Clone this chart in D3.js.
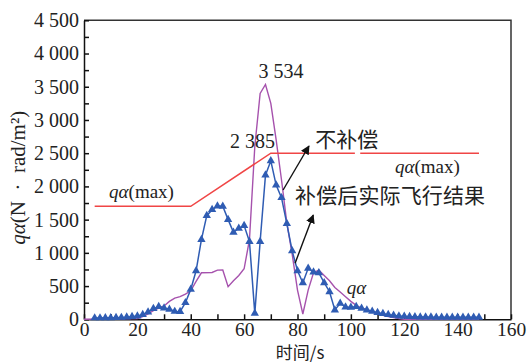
<!DOCTYPE html>
<html>
<head>
<meta charset="utf-8">
<script src="https://cdn.jsdelivr.net/npm/d3@7"></script>
<style>
  html, body { margin: 0; padding: 0; background: #fff; }
  svg text { fill: #222; }
  .serif { font-family: "Liberation Serif", "DejaVu Serif", serif; }
  .cjk { font-family: "Noto Sans CJK SC", sans-serif; }
</style>
</head>
<body>
<svg id="chart" width="531" height="364"></svg>
<script>
// actual flight result after compensation (blue, triangles)
var blueTime = [4, 6, 8, 10, 12, 14, 16, 18, 20, 22, 24, 26, 28, 30, 32, 34, 36, 38, 40, 42,
  44, 46, 48, 50, 52, 54, 56, 58, 60, 62, 64, 66, 68, 70, 72, 74, 76, 78, 80, 82,
  84, 86, 88, 90, 92, 94, 96, 98, 100, 102, 104, 106, 108, 110, 112, 114, 116, 118, 120, 122,
  124, 126, 128, 130, 132, 134, 136, 138, 140, 142, 144, 146, 148];
var blueValue = [20, 20, 22, 22, 25, 28, 32, 40, 50, 70, 110, 160, 190, 170, 150, 118, 115, 250, 450, 730,
  1200, 1560, 1650, 1705, 1700, 1500, 1310, 1370, 1410, 1170, 90, 1170, 2170, 2385, 2020, 1830, 1440, 1030, 730, 550,
  767, 710, 700, 550, 415, 140, 240, 185, 180, 190, 165, 140, 120, 100, 85, 70, 60, 50, 45, 40,
  38, 35, 33, 32, 30, 30, 30, 30, 30, 30, 30, 30, 30];

// without compensation (purple)
var purpleTime = [0, 20, 22, 24, 26, 28, 30, 32, 34, 36, 38, 40, 42, 44, 48, 50, 52, 54, 56, 58,
  60, 62, 64, 66, 68, 70, 72, 74, 76, 78, 80, 82, 84, 86, 88, 90, 92, 94, 96, 98,
  100, 102, 104, 106, 108, 110, 112, 114, 116, 118, 120, 148];
var purpleValue = [0, 10, 40, 80, 130, 170, 200, 270, 320, 340, 380, 430, 570, 700, 705, 740, 742, 490, 580, 660,
  760, 1200, 2600, 3400, 3534, 3250, 2700, 2100, 1450, 980, 440, 80, 440, 700, 740, 660, 580, 480, 410, 340,
  270, 210, 170, 140, 110, 85, 60, 40, 25, 10, 0, 0];

// q-alpha max limit (red), null marks the break in the line
var redTime = [4, 40, 70, 101.5, 102.5, 103.5, 148];
var redValue = [1700, 1700, 2500, 2500, null, 2500, 2500];

var xTicks = [0, 20, 40, 60, 80, 100, 120, 140, 160];
var xMinorTicks = [10, 30, 50, 70, 90, 110, 130, 150];
var yTicks = [0, 500, 1000, 1500, 2000, 2500, 3000, 3500, 4000, 4500];
var yMinorTicks = [250, 750, 1250, 1750, 2250, 2750, 3250, 3750, 4250];

var margin = { top: 20.3, right: 20, bottom: 44.7, left: 84 };
var width = 531 - margin.left - margin.right;
var height = 364 - margin.top - margin.bottom;

var svg = d3.select('#chart');
var g = svg.append('g').attr('transform', 'translate(' + margin.left + ',' + margin.top + ')');

var x = d3.scaleLinear().domain([0, 160]).range([0, width]);
var y = d3.scaleLinear().domain([0, 4500]).range([height, 0]);

var fmt = function (d) { return d >= 1000 ? d3.format(',')(d).replace(',', ' ') : String(d); };

// frame (top + right)
g.append('path')
  .attr('d', 'M0,0H' + width + 'V' + height)
  .attr('fill', 'none')
  .attr('stroke', '#333')
  .attr('stroke-width', 1.5);

// minor ticks
g.append('g')
  .attr('transform', 'translate(0,' + height + ')')
  .call(d3.axisBottom(x).tickValues(xMinorTicks).tickSize(-5).tickFormat(''))
  .call(function (s) { s.select('.domain').remove(); s.selectAll('line').attr('stroke', '#111').attr('stroke-width', 1.5); });
g.append('g')
  .call(d3.axisLeft(y).tickValues(yMinorTicks).tickSize(-5).tickFormat(''))
  .call(function (s) { s.select('.domain').remove(); s.selectAll('line').attr('stroke', '#111').attr('stroke-width', 1.5); });

// major axes
var xAxis = g.append('g')
  .attr('transform', 'translate(0,' + height + ')')
  .call(d3.axisBottom(x).tickValues(xTicks).tickSize(-5).tickSizeOuter(0).tickPadding(3).tickFormat(fmt));
var yAxis = g.append('g')
  .call(d3.axisLeft(y).tickValues(yTicks).tickSize(-5).tickSizeOuter(0).tickPadding(5).tickFormat(fmt));

[xAxis, yAxis].forEach(function (a) {
  a.select('.domain').attr('stroke', '#111').attr('stroke-width', 1.5);
  a.selectAll('line').attr('stroke', '#111').attr('stroke-width', 1.5);
  a.selectAll('text')
    .attr('class', 'serif')
    .style('font-size', a === xAxis ? '19.5px' : '20px')
    .attr('fill', '#222');
});

// series
var purpleLine = d3.line()
  .x(function (d, i) { return x(purpleTime[i]); })
  .y(function (d) { return y(d); });
g.append('path')
  .datum(purpleValue)
  .attr('d', purpleLine)
  .attr('fill', 'none')
  .attr('stroke', '#a652ad')
  .attr('stroke-width', 1.4);

var redLine = d3.line()
  .defined(function (d) { return d !== null; })
  .x(function (d, i) { return x(redTime[i]); })
  .y(function (d) { return y(d); });
g.append('path')
  .datum(redValue)
  .attr('d', redLine)
  .attr('fill', 'none')
  .attr('stroke', '#f04545')
  .attr('stroke-width', 1.5);

var blueLine = d3.line()
  .x(function (d, i) { return x(blueTime[i]); })
  .y(function (d) { return y(d); });
g.append('path')
  .datum(blueValue)
  .attr('d', blueLine)
  .attr('fill', 'none')
  .attr('stroke', '#2f5cb3')
  .attr('stroke-width', 1.5);

var tri = d3.symbol().type(d3.symbolTriangle).size(30);
g.selectAll('.marker')
  .data(blueValue)
  .enter().append('path')
  .attr('class', 'marker')
  .attr('d', tri)
  .attr('transform', function (d, i) { return 'translate(' + x(blueTime[i]) + ',' + y(d) + ')'; })
  .attr('fill', '#2f5cb3');

// arrows
var defs = svg.append('defs');
defs.append('marker')
  .attr('id', 'arrow')
  .attr('viewBox', '0 0 10 10')
  .attr('refX', 9).attr('refY', 5)
  .attr('markerWidth', 9).attr('markerHeight', 9)
  .attr('markerUnits', 'userSpaceOnUse')
  .attr('orient', 'auto')
  .append('path')
  .attr('d', 'M0,0L10,5L0,10Z')
  .attr('fill', '#111');

var arrows = [
  { t0: 74.6, v0: 1946, t1: 84.3, v1: 2608 },
  { t0: 79.1, v0: 843, t1: 85.9, v1: 1570 }
];
g.selectAll('.arrow')
  .data(arrows)
  .enter().append('line')
  .attr('x1', function (d) { return x(d.t0); })
  .attr('y1', function (d) { return y(d.v0); })
  .attr('x2', function (d) { return x(d.t1); })
  .attr('y2', function (d) { return y(d.v1); })
  .attr('stroke', '#111')
  .attr('stroke-width', 1.4)
  .attr('marker-end', 'url(#arrow)');

// annotations
g.append('text').attr('class', 'serif')
  .attr('x', x(73.8)).attr('y', y(3632))
  .attr('text-anchor', 'middle').style('font-size', '20px')
  .text(fmt(3534));
g.append('text').attr('class', 'serif')
  .attr('x', x(63.1)).attr('y', y(2578))
  .attr('text-anchor', 'middle').style('font-size', '20px')
  .text(fmt(2385));
g.append('text').attr('class', 'cjk')
  .attr('x', x(98.5)).attr('y', y(2598))
  .attr('text-anchor', 'middle').style('font-size', '21px')
  .text('不补偿');
g.append('text').attr('class', 'cjk')
  .attr('x', x(79.1)).attr('y', y(1750))
  .style('font-size', '21px')
  .attr('textLength', 190)
  .text('补偿后实际飞行结果');

function qaLabel(t, v, suffix) {
  var tx = g.append('text').attr('class', 'serif')
    .attr('x', x(t)).attr('y', y(v)).style('font-size', '19px');
  tx.append('tspan').style('font-style', 'italic').text('qα');
  if (suffix) tx.append('tspan').text(suffix);
}
qaLabel(9.4, 1826, '(max)');
qaLabel(116.5, 2200, '(max)');
qaLabel(98.5, 380, null);

// axis titles
svg.append('text').attr('class', 'cjk')
  .attr('x', margin.left + x(81)).attr('y', 359.1)
  .attr('text-anchor', 'middle').style('font-size', '17px')
  .text('时间/s');

var yt = svg.append('text').attr('class', 'serif')
  .attr('transform', 'translate(25,' + (margin.top + y(2130)) + ') rotate(-90)')
  .attr('text-anchor', 'middle').style('font-size', '21px');
yt.append('tspan').style('font-style', 'italic').text('qα');
yt.append('tspan').text('(N\u2002·\u2002rad/m²)');
</script>
</body>
</html>
